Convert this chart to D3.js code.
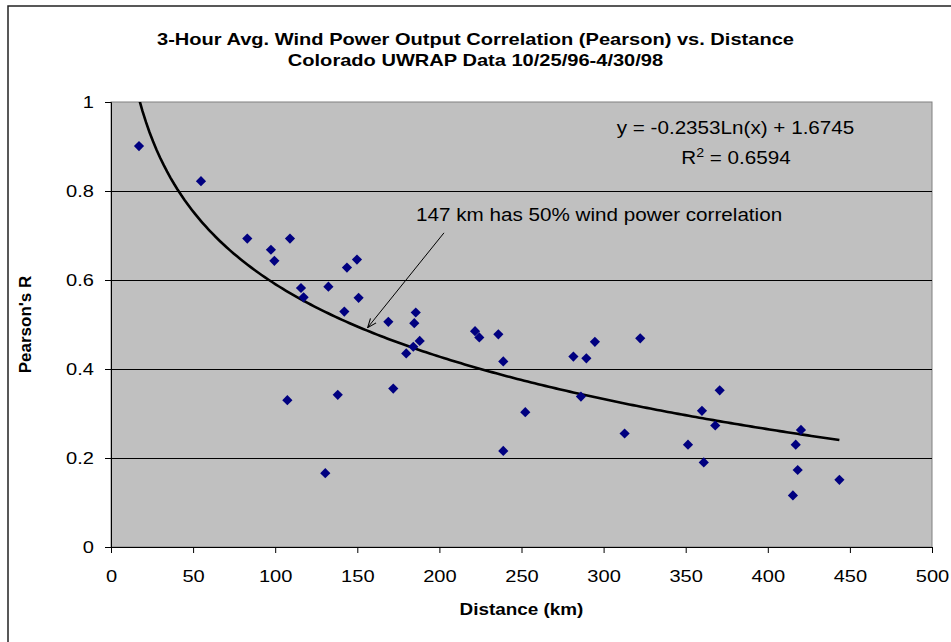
<!DOCTYPE html>
<html><head><meta charset="utf-8">
<script src="https://cdn.jsdelivr.net/npm/d3@7"></script>
<style>body{margin:0;background:#fff;} text{font-family:Arial,"Liberation Sans",sans-serif;}</style>
</head><body>
<svg id="chart" width="951" height="642"></svg>
<script>
const titleLines = ["3-Hour Avg. Wind Power Output Correlation (Pearson) vs. Distance", "Colorado UWRAP Data 10/25/96-4/30/98"];
const xLabel = "Distance (km)";
const yLabel = "Pearson's R";
const xTicks = [0, 50, 100, 150, 200, 250, 300, 350, 400, 450, 500];
const yTicks = [0, 0.2, 0.4, 0.6, 0.8, 1];
const distance = [17.05, 54.8, 83.0, 97.4, 99.5, 109.0, 115.7, 117.3, 132.4, 142.1, 143.7, 149.8, 150.8, 168.9, 185.6, 184.7, 221.7, 224.3, 235.9, 188.0, 294.7, 322.3, 171.9, 179.8, 184.1, 238.9, 238.9, 252.3, 281.6, 289.5, 286.2, 312.8, 107.4, 138.1, 130.5, 370.7, 359.9, 368.0, 351.4, 361.0, 420.2, 417.0, 418.2, 415.3, 443.6];
const pearsonR = [0.901, 0.822, 0.693, 0.668, 0.643, 0.693, 0.582, 0.561, 0.585, 0.529, 0.628, 0.646, 0.560, 0.506, 0.527, 0.503, 0.485, 0.471, 0.478, 0.463, 0.461, 0.469, 0.356, 0.435, 0.450, 0.417, 0.216, 0.303, 0.428, 0.424, 0.338, 0.255, 0.330, 0.342, 0.166, 0.352, 0.306, 0.273, 0.230, 0.190, 0.263, 0.230, 0.173, 0.116, 0.151];
const trendA = -0.2353, trendB = 1.6745;
const eqText = "y = -0.2353Ln(x) + 1.6745";
const r2Value = "0.6594";
const annotation = "147 km has 50% wind power correlation";
const arrowFrom = [202.8, 0.706];
const arrowTo = [156.3, 0.493];

const STRETCH = 1.18;
function stretch(sel) {
  sel.each(function () {
    const w = this.getComputedTextLength();
    d3.select(this).attr("textLength", w * STRETCH).attr("lengthAdjust", "spacingAndGlyphs");
  });
}

const svg = d3.select("#chart");
const L = 111, R = 932, T = 102, B = 547;
const x = d3.scaleLinear().domain([0, 500]).range([L, R]);
const y = d3.scaleLinear().domain([0, 1]).range([B, T]);

// outer frame
svg.append("rect").attr("x", 8).attr("y", 6).attr("width", 1000).attr("height", 700)
  .attr("fill", "#fff").attr("stroke", "#222").attr("stroke-width", 1.5);

// plot area
svg.append("rect").attr("x", L).attr("y", T).attr("width", R - L).attr("height", B - T)
  .attr("fill", "#C0C0C0").attr("stroke", "#808080").attr("stroke-width", 1);

// gridlines
svg.append("g").selectAll("line").data(yTicks.filter(d => d > 0 && d < 1)).join("line")
  .attr("x1", L).attr("x2", R).attr("y1", d => Math.round(y(d)) + 0.5).attr("y2", d => Math.round(y(d)) + 0.5)
  .attr("stroke", "#000").attr("stroke-width", 1);

// axes
const xAxis = svg.append("g").attr("transform", `translate(0,${B})`)
  .call(d3.axisBottom(x).tickValues(xTicks).tickSize(6).tickPadding(17).tickFormat(d3.format("d")));
const yAxis = svg.append("g").attr("transform", `translate(${L},0)`)
  .call(d3.axisLeft(y).tickValues(yTicks).tickSize(6).tickPadding(11).tickFormat(d => d === 0 || d === 1 ? String(d) : d3.format(".1f")(d)));
[xAxis, yAxis].forEach(a => {
  a.select(".domain").attr("stroke", "#000");
  a.selectAll(".tick line").attr("stroke", "#000");
  a.selectAll("text").attr("font-size", 17).attr("fill", "#000").attr("font-family", "Arial, 'Liberation Sans', sans-serif");
  stretch(a.selectAll("text"));
});
yAxis.selectAll("text").attr("dy", "0.35em");

// clip
svg.append("clipPath").attr("id", "plotclip").append("rect")
  .attr("x", L).attr("y", T).attr("width", R - L).attr("height", B - T);

// trend line
const xmin = d3.min(distance), xmax = d3.max(distance);
const trendXs = d3.range(0, 201).map(i => xmin + (xmax - xmin) * i / 200);
svg.append("path").datum(trendXs)
  .attr("clip-path", "url(#plotclip)")
  .attr("d", d3.line().x(d => x(d)).y(d => y(trendA * Math.log(d) + trendB)))
  .attr("fill", "none").attr("stroke", "#000").attr("stroke-width", 2.6);

// points
const pts = distance.map((d, i) => [d, pearsonR[i]]);
const diamond = d3.symbol().type(d3.symbolSquare).size(52);
svg.append("g").selectAll("path").data(pts).join("path")
  .attr("d", diamond)
  .attr("transform", d => `translate(${x(d[0])},${y(d[1])}) rotate(45)`)
  .attr("fill", "#000080");

// title
const titles = svg.append("g").selectAll("text").data(titleLines).join("text")
  .attr("x", 475.5).attr("y", (d, i) => 44.5 + i * 21.2)
  .attr("text-anchor", "middle").attr("font-size", 17).attr("font-weight", "bold")
  .text(d => d);
stretch(titles);

// axis labels
const xl = svg.append("text").attr("x", (L + R) / 2).attr("y", 615).attr("text-anchor", "middle")
  .attr("font-size", 16).attr("font-weight", "bold").text(xLabel);
stretch(xl);
svg.append("text").attr("transform", `translate(31,${(T + B) / 2}) rotate(-90)`).attr("text-anchor", "middle")
  .attr("font-size", 17).attr("font-weight", "bold").text(yLabel);

// equation
const eq = svg.append("text").attr("x", 735.5).attr("y", 134.3).attr("text-anchor", "middle").attr("font-size", 17.5);
eq.text(eqText);
stretch(eq);
const r2g = svg.append("g").attr("transform", `translate(736,164) scale(${STRETCH},1)`);
const r2 = r2g.append("text").attr("x", 0).attr("y", 0).attr("text-anchor", "middle").attr("font-size", 17.5);
r2.append("tspan").text("R");
r2.append("tspan").attr("font-size", 12).attr("dy", -7).text("2");
r2.append("tspan").attr("dy", 7).text(" = " + r2Value);

// annotation
const an = svg.append("text").attr("x", 416).attr("y", 221).attr("font-size", 17.5).text(annotation);
stretch(an);
svg.append("defs").append("marker").attr("id", "arrow").attr("viewBox", "0 0 10 10")
  .attr("refX", 10).attr("refY", 5).attr("markerWidth", 9).attr("markerHeight", 9).attr("orient", "auto")
  .attr("markerUnits", "userSpaceOnUse")
  .append("path").attr("d", "M0,1 L10,5 L0,9").attr("fill", "none").attr("stroke", "#000").attr("stroke-width", 1.2);
svg.append("line")
  .attr("x1", x(arrowFrom[0])).attr("y1", y(arrowFrom[1]))
  .attr("x2", x(arrowTo[0])).attr("y2", y(arrowTo[1]))
  .attr("stroke", "#000").attr("stroke-width", 1).attr("marker-end", "url(#arrow)");
</script>
</body></html>
